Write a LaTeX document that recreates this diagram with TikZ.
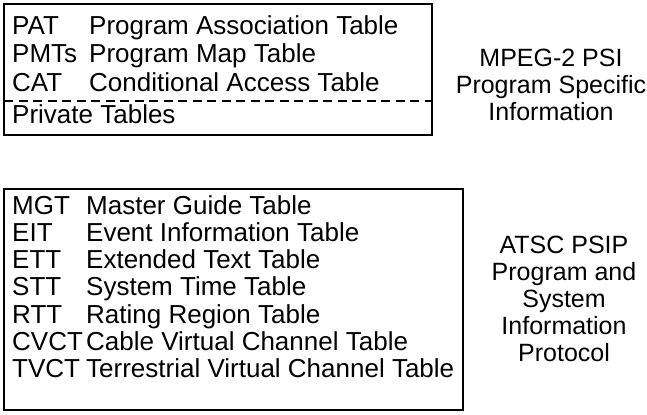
\documentclass[tikz,border=0pt]{standalone}
\usepackage{fontspec}
\setmainfont{Liberation Sans}
\usetikzlibrary{positioning}

\begin{document}
\begin{tikzpicture}[
  x=1bp, y=-1bp,
  every node/.style={font=\fontsize{26bp}{27bp}\selectfont, inner sep=0pt},
  abbr/.style={anchor=base west},
  desc/.style={anchor=base west},
  lbl/.style={align=center, anchor=base, font=\fontsize{25bp}{27bp}\selectfont},
  box/.style={draw, line width=1.8bp},
  sep/.style={line width=2.8bp, dash pattern=on 9bp off 5.5bp},
]
  \useasboundingbox (0,0) rectangle (647,414);

  % MPEG-2 PSI tables
  \draw[box] (4,4) rectangle (432,135);
  \foreach \a/\d [count=\i] in {PAT/Program Association Table,
      PMTs/Program Map Table, CAT/Conditional Access Table} {
    \node[abbr] (psi\i) at (12, 5.5 + 28.5*\i) {\a};
    \node[desc] (psid\i) at (89, 5.5 + 28.5*\i) {\d};
  }
  \draw[sep] (4,101) -- (432,101);
  \node[abbr] (priv) at (12, 123.5) {Private Tables};

  \node[lbl] (psi) at (551, 120) {MPEG-2 PSI\\Program Specific\\Information};

  % ATSC PSIP tables
  \draw[box] (4,189) rectangle (463,410);
  \foreach \a/\d [count=\i] in {MGT/Master Guide Table,
      EIT/Event Information Table, ETT/Extended Text Table,
      STT/System Time Table, RTT/Rating Region Table,
      CVCT/Cable Virtual Channel Table,
      TVCT/Terrestrial Virtual Channel Table} {
    \node[abbr] (psip\i) at (12, 186.7 + 27.3*\i) {\a};
    \node[desc] (psipd\i) at (86, 186.7 + 27.3*\i) {\d};
  }

  \node[lbl] (psip) at (564, 361) {ATSC PSIP\\Program and\\System\\Information\\Protocol};
\end{tikzpicture}
\end{document}
